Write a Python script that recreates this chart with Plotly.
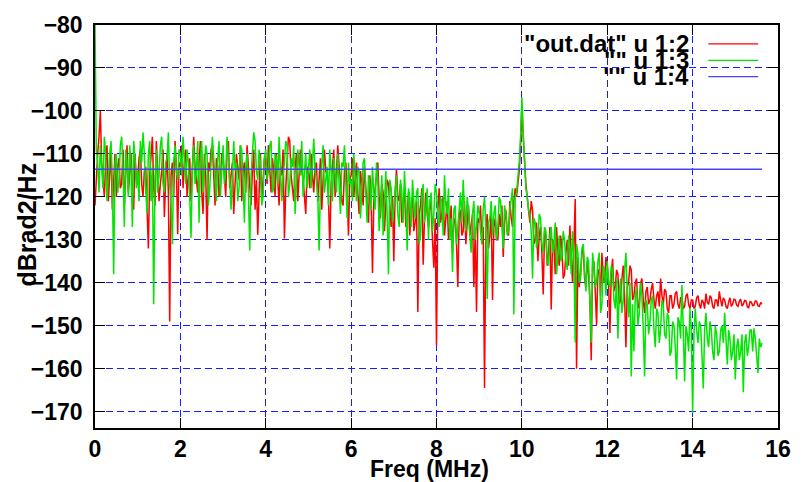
import plotly.graph_objects as go

# Frequency bin spacing (MHz) of the spectrum in out.dat
DF = 0.03125

# Column 2 of out.dat (dBrad2/Hz), one row per MHz
col2_rows = [
    [-122, -114, -110, -106, -100, -112, -117, -120, -112, -108, -121, -116, -109, -123, -115, -110,
     -120, -113, -111, -118, -117, -109, -122, -114, -108, -119, -114, -110, -119, -123, -110, -116],
    [-116, -111, -109, -117, -120, -114, -113, -123, -132, -115, -111, -106, -118, -122, -107, -113,
     -121, -117, -114, -109, -124.7, -116, -110, -119, -149, -115, -112, -120, -107, -113, -128.7, -112],
    [-113, -108, -118, -112, -109, -120, -115, -111, -121, -114, -106, -113, -116, -119, -112, -107,
     -119, -124, -110, -115, -130, -112, -114, -109, -108, -117, -122, -111, -113, -120, -117, -110],
    [-111, -115, -120, -109, -107, -118, -115, -112, -124, -117, -110, -113, -116, -108, -121, -114,
     -112, -119, -108, -113, -118, -122, -114, -109, -123, -116, -128.8, -117, -110, -121, -116, -111],
    [-112, -117, -108, -113, -119, -111, -114, -120, -110, -116, -122, -113, -115, -109, -129.7, -118,
     -111, -106, -107, -115, -118, -121, -113, -110, -121, -116, -109, -114, -116, -120, -124, -113],
    [-114, -118, -110, -115, -119, -113, -112, -121, -117, -111, -123, -116, -109, -114, -115, -120,
     -132, -117, -113, -109, -120, -115, -108, -113, -116, -121, -122, -114, -112, -118, -129, -116],
    [-115, -111, -120, -116, -112, -119, -124, -114, -117, -122, -113, -118, -121, -126, -115, -120,
     -137.7, -121, -118, -114, -112, -120, -125, -117, -119, -128, -123, -116, -117, -122, -127, -120],
    [-135, -119, -113.5, -120, -121, -117, -126, -122, -118, -127, -124, -119, -129, -123, -120, -128,
     -126, -121, -146.8, -124, -122, -118, -135.8, -125, -119, -124, -127, -121, -123, -130, -136.5, -125],
    [-154.6, -123, -118, -126, -124, -120, -129, -125, -121, -130, -127, -122, -133, -126, -125, -131,
     -141, -124, -123, -129, -128, -121, -131, -126, -122, -129, -127, -124, -141, -128, -146.8, -125],
    [-126, -122, -131, -127, -164.5, -128, -124, -132, -129, -123, -144, -127, -125, -130, -130, -124,
     -127, -122, -134, -126, -123, -128, -129, -121, -125, -127, -121, -118, -120, -117, -114, -108],
    [-98.5, -106, -112, -117, -120, -124, -126, -121, -123, -131, -130, -126, -135, -129, -127, -133,
     -142.7, -128, -129, -136, -133, -127, -146.2, -130, -131, -138, -127, -133, -136, -129, -132, -139],
    [-138, -133, -130, -136, -126.7, -134, -140, -131, -120.5, -160, -134, -141, -138, -133, -132, -139,
     -141, -135, -138, -144, -158, -136, -135, -142, -149.8, -137, -137, -143, -133, -139, -140, -134],
    [-136, -140, -151.7, -138, -134.4, -142, -141, -137, -138, -145, -144, -139, -136, -143, -155, -141,
     -140, -136, -137, -144, -143, -140, -139, -146, -145, -140, -139, -144, -147, -142, -141, -145],
    [-144, -141.5, -140, -144, -146, -143, -142, -145.5, -139, -143, -145, -141.5, -142, -146, -147, -143,
     -143, -146, -145, -142.5, -142, -145, -146, -143.5, -143.5, -146, -145.5, -143, -142.5, -145, -146, -144],
    [-144, -146, -145.5, -143.5, -143, -145, -146, -144, -144.5, -146, -142.5, -144.5, -145, -143, -143.5, -145.5,
     -146, -144, -144, -145.5, -142, -144, -145.5, -143.5, -144, -145.5, -146, -144.5, -143.5, -145.5, -145, -143.8],
    [-144, -145.2, -145.5, -144.3, -143.8, -145.4, -145, -144.1, -144.2, -145.6, -145.8, -144.4, -144.5, -145.3,
     -145.2, -144.2, -144.3, -145.4, -145.5, -144.6, -145],
]

# Column 3 of out.dat (dBrad2/Hz), one row per MHz
col3_rows = [
    [-80, -109, -112, -119, -108, -113, -118, -106, -110, -121, -115, -110, -107, -117, -138, -112,
     -110, -119, -116, -108, -106, -114, -127, -109, -112, -120, -108, -113, -127, -107, -111, -118],
    [-114, -121, -107, -112, -105, -110, -118, -124, -110, -107, -121, -113, -145, -116, -109, -119,
     -115, -108, -106, -117, -119, -112, -111, -105, -117, -122, -131, -112, -108, -114, -116, -109],
    [-110, -115, -106, -111, -117, -109, -112, -120, -129.5, -113, -108, -117, -114, -107, -126, -111,
     -107, -119, -113, -108, -110, -122, -118, -112, -106, -111, -115, -121, -111, -107, -120, -113],
    [-108, -117, -114, -106, -110, -116, -123, -112, -107, -114, -112, -121, -118, -108, -109, -117,
     -126, -113, -110, -119, -132.5, -115, -111, -105, -107, -114, -116, -109, -112, -122, -120, -111],
    [-109, -116, -114, -108, -107, -119, -118, -110, -111, -117, -106, -113, -121, -115, -112, -107,
     -108, -120, -117, -111, -113, -108, -124, -116, -109, -113, -115, -107, -120, -114, -110, -118],
    [-113, -109, -118, -112, -106.5, -114, -116, -120, -132.5, -117, -111, -108, -119, -115, -113, -122,
     -109, -114, -121, -111, -115, -119, -110, -116, -124, -112, -113, -108, -118, -125, -112, -117],
    [-116, -121, -110, -117, -121, -113, -114, -125, -119, -112, -111, -118, -126, -115, -117, -123,
     -113, -119, -123, -112, -116, -128, -120, -115, -129, -121, -114, -124, -138, -116, -118, -126],
    [-122, -117, -115, -124, -127, -116, -119, -126, -114, -121, -132.5, -118, -120, -127, -116, -121,
     -125, -119, -118, -131, -129, -120, -117, -126, -123, -118, -130, -121, -119, -128, -124, -117],
    [-119, -125, -127, -120, -121, -129, -115, -122, -124, -118, -130, -125, -137.5, -123, -122, -131,
     -127, -121, -119, -126, -116, -123, -128, -120, -123, -129, -133, -124, -121, -130, -127, -122],
    [-124, -128, -131, -123, -120, -127, -143.8, -126, -125, -121, -129, -124, -122, -130, -127, -120,
     -121, -126, -132, -122, -124, -129, -128, -123, -121, -118, -147.4, -120, -119, -116, -112, -106],
    [-96.9, -105, -114, -118, -120, -123, -124, -128, -139, -125, -126, -132, -130, -124, -125, -131,
     -133, -127, -128, -135, -136, -129, -127, -133, -131, -126, -138, -132, -129, -135, -134, -128],
    [-130, -135, -137, -129, -132, -138, -128, -134, -153.9, -131, -133, -140, -139, -132, -131, -137,
     -142, -134, -135, -144, -153.9, -133, -136, -141, -140, -135, -133, -147, -145, -136, -137, -143],
    [-135, -140, -141, -136, -137, -144, -146, -139, -153, -142, -139, -147, -144, -137, -133, -142,
     -148, -140, -161.8, -145, -156, -143, -141, -150, -147, -140, -143, -151, -161.8, -144, -145, -152],
    [-149, -144, -143, -151, -155, -146, -147, -154, -151, -144, -145, -152, -153, -147, -148, -157,
     -156, -149, -150, -155, -162.5, -148, -149, -153, -140.5, -151, -163, -150, -152, -156, -146, -151],
    [-170.3, -152, -146, -151, -154, -149, -150, -157, -164.6, -151, -147, -153, -155, -149, -151, -156,
     -158, -150, -152, -157, -156, -151, -150, -154, -147, -153, -159, -151, -153, -158, -156, -152],
    [-162.5, -155, -153, -158, -156, -152, -165.5, -154, -152, -157, -155, -151, -151, -156, -150.6,
     -153, -157, -161, -153, -155, -154],
]

for rows in (col2_rows, col3_rows):
    assert all(len(r) == 32 for r in rows[:-1])

col2 = [v for r in col2_rows for v in r]
col3 = [v for r in col3_rows for v in r]
# Column 4 of out.dat: flat reference level (dBrad2/Hz)
col4 = [-113.6] * len(col2)

freq = [i * DF for i in range(len(col2))]

x_ticks = [0, 2, 4, 6, 8, 10, 12, 14, 16]
y_ticks = [-170, -160, -150, -140, -130, -120, -110, -100, -90, -80]

legend_labels = ['"out.dat" u 1:2', '"" u 1:3', '"" u 1:4']
colors = ["#ff0000", "#00e600", "#4646ff"]

FONT = "Liberation Sans, Arial, Helvetica, sans-serif"

fig = go.Figure()
for ys, c in zip([col2, col3, col4], colors):
    fig.add_trace(go.Scatter(x=freq, y=ys, mode="lines",
                             line=dict(color=c, width=1.5), showlegend=False))

axis_common = dict(showline=True, linecolor="black", linewidth=1.5, mirror="ticks",
                   ticks="inside", ticklen=10, tickwidth=1.2, tickcolor="black",
                   zeroline=False,
                   tickfont=dict(family=FONT, size=23, color="black", weight="bold"),
                   showgrid=True, gridcolor="#1a1aff", gridwidth=1, griddash="7px,4px")

fig.update_xaxes(range=[0, 16], tickvals=x_ticks, ticktext=[str(v) for v in x_ticks],
                 **axis_common)
fig.update_yaxes(range=[-173.8, -80], tickvals=y_ticks, ticklabelstandoff=6,
                 **axis_common)

# Axis titles
fig.add_annotation(text="Freq (MHz)", xref="paper", yref="paper", x=0.49, y=-0.064,
                   showarrow=False, xanchor="center", yanchor="top",
                   font=dict(family=FONT, size=23, color="black", weight="bold"))
fig.add_annotation(text="dBrad2/Hz", xref="paper", yref="paper", x=-0.099, y=0.506,
                   textangle=-90, showarrow=False, xanchor="center", yanchor="middle",
                   font=dict(family=FONT, size=25, color="black", weight="bold"))

# Key in the top-right corner: right-aligned labels with line samples
key_rows = [0.953, 0.912, 0.872]
for lab, c, yp in zip(legend_labels, colors, key_rows):
    fig.add_annotation(text=lab, xref="paper", yref="paper", x=0.872, y=yp,
                       showarrow=False, xanchor="right", yanchor="middle",
                       font=dict(family=FONT, size=24, color="black", weight="bold"))
    fig.add_shape(type="line", xref="paper", yref="paper", x0=0.898, x1=0.971,
                  y0=yp, y1=yp, line=dict(color=c, width=1.3))

fig.update_layout(width=803, height=482, margin=dict(l=95, r=20, t=21, b=54),
                  plot_bgcolor="white", paper_bgcolor="white", showlegend=False)

fig.write_html("out.html")
